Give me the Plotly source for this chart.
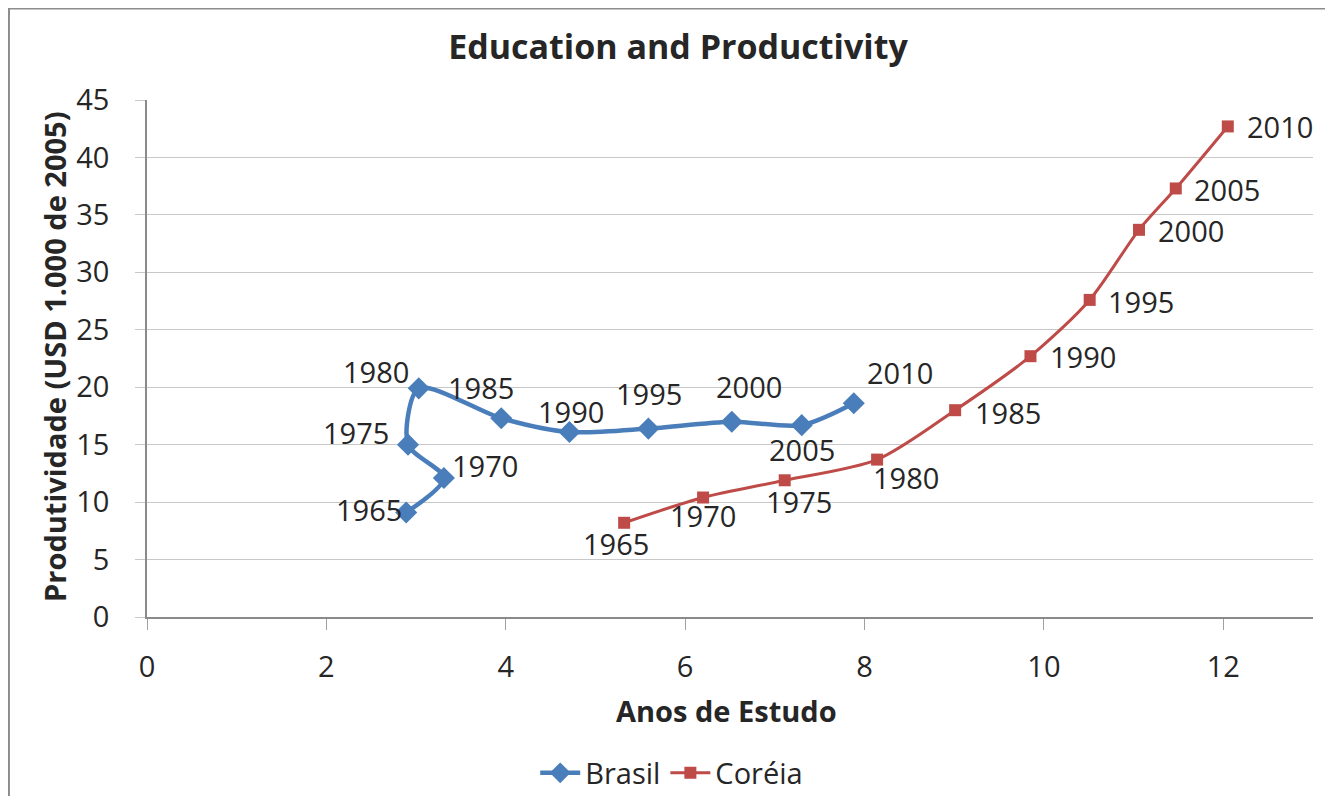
import plotly.graph_objects as go

years = ["1965", "1970", "1975", "1980", "1985", "1990", "1995", "2000", "2005", "2010"]

brasil_x = [2.89, 3.31, 2.91, 3.03, 3.95, 4.71, 5.59, 6.52, 7.30, 7.88]
brasil_y = [9.1, 12.1, 15.0, 19.9, 17.3, 16.1, 16.4, 17.0, 16.7, 18.6]

coreia_x = [5.32, 6.20, 7.11, 8.14, 9.01, 9.85, 10.51, 11.06, 11.47, 12.05]
coreia_y = [8.2, 10.4, 11.9, 13.7, 18.0, 22.7, 27.6, 33.7, 37.3, 42.7]

# label offsets in pixels (style only)
brasil_dx = [-37, 41, -52, -43, -20, 2, 1, 17, 0, 46]
brasil_dy = [3, 12, 12, 17, 31, 21, 35, 35, -24, 31]
coreia_dx = [-8, 0, 14, 29, 53, 53, 51, 52, 51, 52]
coreia_dy = [-21, -18, -21, -18, -2, 0, -2, -1, -1, 0]

FONT = "Open Sans"
TXT = "#262626"
BLUE = "#4A7EBB"
RED = "#BE4B48"

fig = go.Figure()
fig.add_trace(go.Scatter(
    x=brasil_x, y=brasil_y, name="Brasil", mode="lines+markers",
    line=dict(color=BLUE, width=4.5, shape="spline", smoothing=0.8),
    marker=dict(symbol="diamond", size=17, color=BLUE),
))
fig.add_trace(go.Scatter(
    x=coreia_x, y=coreia_y, name="Coréia", mode="lines+markers",
    line=dict(color=RED, width=3, shape="spline", smoothing=0.8),
    marker=dict(symbol="square", size=12, color=RED),
))

annotations = []
for xs, ys, dxs, dys in [(brasil_x, brasil_y, brasil_dx, brasil_dy),
                         (coreia_x, coreia_y, coreia_dx, coreia_dy)]:
    for xv, yv, lab, dx, dy in zip(xs, ys, years, dxs, dys):
        annotations.append(dict(x=xv, y=yv, xref="x", yref="y", text=lab, showarrow=False,
                                xshift=dx, yshift=dy, xanchor="center", yanchor="middle",
                                font=dict(family=FONT, size=29, color=TXT)))

annotations.append(dict(text="<b>Anos de Estudo</b>", xref="paper", yref="paper",
                        x=0.4966, y=-0.180, showarrow=False, xanchor="center", yanchor="middle",
                        font=dict(family=FONT, size=29, color=TXT)))
annotations.append(dict(text="<b>Produtividade (USD 1.000 de 2005)</b>", xref="paper", yref="paper",
                        x=-0.0789, y=0.503, showarrow=False, textangle=-90,
                        xanchor="center", yanchor="middle",
                        font=dict(family=FONT, size=29, color=TXT)))

fig.update_layout(
    width=1325, height=788,
    margin=dict(l=139, r=20, t=92, b=179, autoexpand=False),
    paper_bgcolor="white", plot_bgcolor="white",
    title=dict(text="<b>Education and Productivity</b>", xref="paper", x=0.4554, xanchor="center",
               y=0.9505, yanchor="middle",
               font=dict(family=FONT, size=34, color=TXT)),
    font=dict(family=FONT, size=29, color=TXT),
    showlegend=True,
    legend=dict(orientation="h", xref="paper", x=0.45, xanchor="center",
                yref="container", y=0.0292, yanchor="middle",
                font=dict(family=FONT, size=29, color=TXT), bgcolor="rgba(0,0,0,0)",
                itemwidth=40, tracegroupgap=0),
    annotations=annotations,
    shapes=[dict(type="rect", xref="paper", yref="paper",
                 x0=-0.1184, x1=1.2, y0=-0.8, y1=1.177,
                 line=dict(color="#8c8c8c", width=2), layer="below")],
)
fig.update_xaxes(
    range=[0, 13], tickvals=[0, 2, 4, 6, 8, 10, 12], showgrid=False,
    showline=True, linecolor="#8a8a8a", linewidth=1.5, ticks="outside", ticklen=11,
    tickcolor="#a0a0a0", zeroline=False, ticklabelstandoff=12,
    tickfont=dict(family=FONT, size=29, color=TXT),
)
fig.update_yaxes(
    range=[0, 45], dtick=5, showgrid=True, gridcolor="#c8c8c8", gridwidth=1.2,
    showline=True, linecolor="#8a8a8a", linewidth=1.5, ticks="outside", ticklen=10,
    tickcolor="#c8c8c8", zeroline=False, ticklabelstandoff=20,
    tickfont=dict(family=FONT, size=29, color=TXT),
)

fig.write_html("out.html")
